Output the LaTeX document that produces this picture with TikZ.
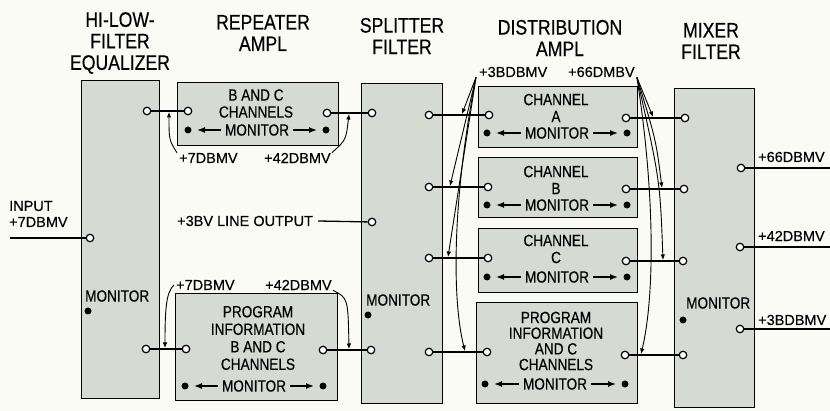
\documentclass[tikz,border=0pt]{standalone}
\usepackage{fontspec}
\setmainfont{Liberation Sans}
\newfontfamily\narrowfont{Liberation Sans}[FakeStretch=0.84, FakeBold=0.4]
\newfontfamily\labelfont{Liberation Sans}[FakeBold=0.3]
\usetikzlibrary{arrows.meta}
\definecolor{boxfill}{RGB}{213,219,210}
\definecolor{bgcol}{RGB}{251,251,246}
\newcommand\monrow[4]{%
  \node[dot] (#1l) at (#2,#4) {};
  \node[btxt] (#1m) at ({(#2+#3)/2},#4) {MONITOR};
  \node[dot] (#1r) at (#3,#4) {};
  \draw[marr] ([xshift=-4pt]#1m.west) -- ([xshift=9pt]#1l.center);
  \draw[marr] ([xshift=4pt]#1m.east) -- ([xshift=-9pt]#1r.center);
}
\begin{document}
\begin{tikzpicture}[x=1pt,y=-1pt,
  blk/.style={draw, line width=1.4pt, fill=boxfill, anchor=north west, inner sep=0pt},
  port/.style={circle, draw, line width=1.2pt, fill=white, inner sep=0pt, minimum size=7.5pt},
  wire/.style={line width=1.3pt},
  lbl/.style={font=\labelfont\fontsize{14.5}{16}\selectfont, inner sep=0pt, anchor=west},
  ttl/.style={font=\narrowfont\fontsize{21}{21.5}\selectfont, align=center, inner sep=0pt},
  btxt/.style={font=\narrowfont\fontsize{16.2}{17}\selectfont, align=center, inner sep=0pt},
  dot/.style={circle, fill=black, inner sep=0pt, minimum size=7pt},
  tap/.style={line width=0.9pt, -{Latex[length=5.5pt,width=4.5pt]}},
  marr/.style={line width=1.4pt, -{Latex[length=8pt,width=6pt]}}
]
\useasboundingbox (0,0) rectangle (830,411);
\fill[bgcol] (0,0) rectangle (830,411);

% titles
\node[ttl] (t1) at (120,43) {HI-LOW-\\FILTER\\EQUALIZER};
\node[ttl] (t2) at (263,33) {REPEATER\\AMPL};
\node[ttl] (t3) at (402,36) {SPLITTER\\FILTER};
\node[ttl] (t4) at (560,38) {DISTRIBUTION\\AMPL};
\node[ttl] (t5) at (711,41) {MIXER\\FILTER};

% blocks
\node[blk, minimum width=78pt, minimum height=318pt] (eq) at (81,80) {};
\node[blk, minimum width=161pt, minimum height=63pt] (rep1) at (177,82) {};
\node[blk, minimum width=162pt, minimum height=107pt] (rep2) at (175,293) {};
\node[blk, minimum width=81pt, minimum height=320pt] (spl) at (361,83) {};
\node[blk, minimum width=159pt, minimum height=61pt] (dA) at (478,86) {};
\node[blk, minimum width=159pt, minimum height=60pt] (dB) at (478,157) {};
\node[blk, minimum width=159pt, minimum height=64pt] (dC) at (478,228) {};
\node[blk, minimum width=161pt, minimum height=101pt] (dD) at (476,302) {};
\node[blk, minimum width=80pt, minimum height=319pt] (mix) at (674,88) {};

% block texts
\node[btxt] (r1t) at (256,103.5) {B AND C\\CHANNELS};
\node[btxt, font=\narrowfont\fontsize{16.2}{17.5}\selectfont] (r2t) at (258,338) {PROGRAM\\INFORMATION\\B AND C\\CHANNELS};
\node[btxt] (dAt) at (556,108) {CHANNEL\\A};
\node[btxt] (dBt) at (556,180) {CHANNEL\\B};
\node[btxt] (dCt) at (556,249) {CHANNEL\\C};
\node[btxt, font=\narrowfont\fontsize{16.2}{15.7}\selectfont] (dDt) at (556,341) {PROGRAM\\INFORMATION\\AND C\\CHANNELS};

\monrow{mra}{188}{326}{130}
\monrow{mrb}{185}{323}{386}
\monrow{mda}{487}{627}{133}
\monrow{mdb}{487}{627}{205}
\monrow{mdc}{487}{627}{277}
\monrow{mdd}{485}{625}{384}

% monitor points in filters
\node[btxt, anchor=west] (eqM) at (85,296) {MONITOR};
\node[dot] (eqMd) at (88,311) {};
\node[btxt, anchor=west] (splM) at (366,300) {MONITOR};
\node[dot] (splMd) at (368,315) {};
\node[btxt, anchor=west] (mixM) at (686,303) {MONITOR};
\node[dot] (mixMd) at (683,320) {};

% ports
\node[port] (eqIn) at (90,238) {};
\node[port] (eqO1) at (147,111) {};
\node[port] (eqO2) at (146,349) {};
\node[port] (r1i) at (188,111) {};
\node[port] (r1o) at (327,113) {};
\node[port] (r2i) at (186,349) {};
\node[port] (r2o) at (323,350) {};
\node[port] (sI1) at (372,113) {};
\node[port] (sLO) at (372,222) {};
\node[port] (sI2) at (371,350) {};
\node[port] (sO1) at (429,115) {};
\node[port] (sO2) at (429,187) {};
\node[port] (sO3) at (429,258) {};
\node[port] (sO4) at (429,352) {};
\node[port] (dAi) at (489,115) {};
\node[port] (dAo) at (626,118) {};
\node[port] (dBi) at (488,187) {};
\node[port] (dBo) at (626,189) {};
\node[port] (dCi) at (488,258) {};
\node[port] (dCo) at (626,261) {};
\node[port] (dDi) at (487,352) {};
\node[port] (dDo) at (625,355) {};
\node[port] (mI1) at (685,118) {};
\node[port] (mI2) at (684,189) {};
\node[port] (mI3) at (683,261) {};
\node[port] (mI4) at (683,355) {};
\node[port] (mO1) at (741,168) {};
\node[port] (mO2) at (740,247) {};
\node[port] (mO3) at (740,329) {};

\coordinate (inEnd) at (10,238);
\coordinate (mE1) at (830,168);
\coordinate (mE2) at (830,247);
\coordinate (mE3) at (830,329);

% labels
\node[lbl] (inL1) at (9,206) {INPUT};
\node[lbl] (inL2) at (9,222) {+7DBMV};
\node[lbl] (loL) at (177,221) {+3BV LINE OUTPUT};
\node[lbl] (l7a) at (179,158) {+7DBMV};
\node[lbl] (l42a) at (264,158) {+42DBMV};
\node[lbl] (l7b) at (176,285) {+7DBMV};
\node[lbl] (l42b) at (265,285) {+42DBMV};
\node[lbl] (l38) at (479,72) {+3BDBMV};
\node[lbl] (l66) at (568,72) {+66DMBV};
\node[lbl] (o66) at (758,157) {+66DBMV};
\node[lbl] (o42) at (758,236) {+42DBMV};
\node[lbl] (o38) at (758,320) {+3BDBMV};

% wires
\draw[wire] (inEnd) -- (eqIn);
\draw[wire] (eqO1) -- (r1i);
\draw[wire] (r1o) -- (sI1);
\draw[wire] ([xshift=5pt]loL.east) -- (sLO);
\draw[wire] (eqO2) -- (r2i);
\draw[wire] (r2o) -- (sI2);
\draw[wire] (sO1) -- (dAi);
\draw[wire] (sO2) -- (dBi);
\draw[wire] (sO3) -- (dCi);
\draw[wire] (sO4) -- (dDi);
\draw[wire] (dAo) -- (mI1);
\draw[wire] (dBo) -- (mI2);
\draw[wire] (dCo) -- (mI3);
\draw[wire] (dDo) -- (mI4);
\draw[wire] (mO1) -- (mE1);
\draw[wire] (mO2) -- (mE2);
\draw[wire] (mO3) -- (mE3);

% level taps
\draw[tap] ([xshift=-2pt]l7a.north west) .. controls (169,140) .. (169,112);
\draw[tap] ([xshift=1pt]l42a.north east) .. controls (346,140) .. (349,114);
\draw[tap] ([xshift=-2pt]l7b.west) .. controls (166,292) and (165,310) .. (165,348);
\draw[tap] ([xshift=1pt]l42b.south east) .. controls (348,298) .. (349,349);

\draw[tap] ([xshift=-3pt]l38.south west) -- (462,114);
\draw[tap] ([xshift=-3pt]l38.south west) -- (450,186);
\draw[tap] ([xshift=-3pt]l38.south west) -- (448,257);
\draw[tap] ([xshift=-3pt]l38.south west) .. controls (452,200) and (452,300) .. (465,351);

\draw[tap] ([xshift=2pt]l66.south east) -- (653,117);
\draw[tap] ([xshift=2pt]l66.south east) .. controls (656,140) .. (662,188);
\draw[tap] ([xshift=2pt]l66.south east) .. controls (660,180) .. (663,260);
\draw[tap] ([xshift=2pt]l66.south east) .. controls (656,200) and (654,300) .. (641,354);
\end{tikzpicture}
\end{document}
